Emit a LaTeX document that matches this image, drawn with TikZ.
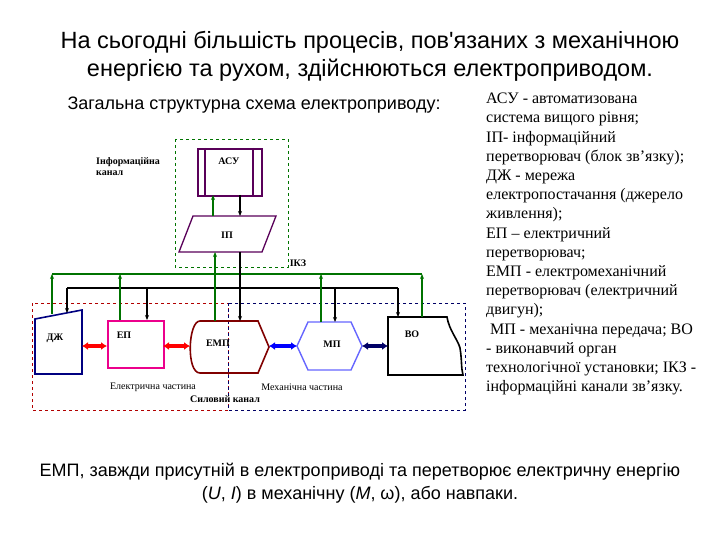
\documentclass[tikz,border=0pt]{standalone}
\usepackage{fontspec}
\setmainfont{Liberation Serif}
\newfontfamily\sans{Liberation Sans}
\usetikzlibrary{arrows.meta}
\newcommand{\apos}{{\char"27}}
\begin{document}
\begin{tikzpicture}[x=1pt,y=-1pt,
 blk/.style={line width=1.6pt},
 gr/.style={draw=green!45!black,line width=1.6pt},
 bk/.style={draw=black,line width=1.3pt},
 up/.style={gr,-{Stealth[length=5pt,width=4pt]}},
 dn/.style={bk,-{Stealth[length=5pt,width=4pt]}},
 dbl/.style={line width=4pt,{Latex[length=6pt,width=8pt]}-{Latex[length=6pt,width=8pt]}},
 lbl/.style={font=\bfseries\fontsize{10}{11}\selectfont},
 sm/.style={font=\fontsize{10}{11}\selectfont}]
\useasboundingbox (0,0) rectangle (720,540);
\node[font=\sans\fontsize{23.5}{28}\selectfont,align=center] (title) at (370,56) {На сьогодні більшість процесів, пов\apos язаних з механічною\\енергією та рухом, здійснюються електроприводом.};
\node[font=\sans\fontsize{18}{20}\selectfont,anchor=west] (sub) at (64,105) {Загальна структурна схема електроприводу:};
\node[font=\fontsize{16}{19.2}\selectfont,align=left,anchor=north west,inner sep=0] (legend) at (486,93) {АСУ - автоматизована\\система вищого рівня;\\ІП- інформаційний\\перетворювач (блок зв\apos язку);\\ДЖ - мережа\\електропостачання (джерело\\живлення);\\ЕП – електричний\\перетворювач;\\ЕМП - електромеханічний\\перетворювач (електричний\\двигун);\\ \ МП - механічна передача; ВО\\- виконавчий орган\\технологічної установки; ІКЗ -\\інформаційні канали зв\apos язку.};
\node[font=\sans\fontsize{18}{23}\selectfont,align=center] (bottom) at (360,483) {ЕМП, завжди присутній в електроприводі та перетворює електричну енергію\\(\textit{U}, \textit{I}) в механічну (\textit{M}, ω), або навпаки.};
% dashed frames
\draw[green!45!black,dashed,thin] (175,139) rectangle (288,267);
\draw[red!70!black,dashed,thin] (32,303) rectangle (228,410);
\draw[blue!40!black,dashed,thin] (228,303) rectangle (465,410);
% ASU
\node[draw=violet!70!black,blk,minimum width=64pt,minimum height=47pt,anchor=north west,inner sep=0] (asu) at (197,148) {};
\draw[violet!70!black,blk] (205,148) -- (205,195) (253,148) -- (253,195);
\node[lbl] (asut) at (229,161) {АСУ};
% IP
\draw[violet!70!black,line width=1.3pt,fill=white] (193,216) -- (276,216) -- (262,252) -- (179,252) -- cycle;
\node[lbl] (ip) at (227,235) {ІП};
\node[lbl] (ikz) at (298,263) {ІКЗ};
\node[lbl,align=left,anchor=north west,inner sep=0] (info) at (96,157) {Інформаційна\\канал};
% blocks
\draw[blue!50!black,line width=1.6pt] (35,319) -- (82,310) -- (82,374) -- (35,374) -- cycle;
\node[lbl] (dzh) at (55,338) {ДЖ};
\node[draw=magenta,line width=1.6pt,minimum width=56pt,minimum height=47pt,anchor=north west,inner sep=0] (ep) at (107,320) {};
\node[lbl] (ept) at (124,335) {ЕП};
\draw[red!50!black,line width=1.6pt] (200,321) -- (258,321) -- (269,347) -- (258,373) -- (200,373) .. controls (186,373) and (188,321) .. (200,321);
\node[lbl] (emp) at (218,343) {ЕМП};
\draw[blue!60!white,line width=1.4pt] (308,322) -- (351,322) -- (362,346) -- (351,370) -- (308,370) -- (297,346) -- cycle;
\node[lbl] (mp) at (332,344) {МП};
\draw[black,line width=1.6pt] (388,317) -- (447,317) .. controls (449,330) and (458,340) .. (460,348) .. controls (462,360) and (461,368) .. (463,375) -- (388,375) -- cycle;
\node[lbl] (vo) at (412,334) {ВО};
\node[sm] (el) at (153,387) {Електрична частина};
\node[sm] (mech) at (302,387) {Механічна частина};
\node[lbl] (sil) at (225,399) {Силовий канал};
% coordinates
\coordinate (g1) at (52,274); \coordinate (g2) at (422,274);
\coordinate (b1) at (67,288); \coordinate (b2) at (398,288);
% power arrows
\draw[dbl,red] (82,346) -- (107,346);
\draw[dbl,red] (163,346) -- (190,346);
\draw[dbl,blue] (269,346) -- (297,346);
\draw[dbl,blue!40!black] (362,346) -- (388,346);
% buses
\draw[gr] (g1) -- (g2);
\draw[bk] (b1) -- (b2);
\draw[up] (52,314) -- (52,274);
\draw[up] (120,320) -- (120,274);
\draw[up] (215,321) -- (215,252);
\draw[up] (213,216) -- (213,195);
\draw[up] (321,322) -- (321,274);
\draw[up] (422,317) -- (422,274);
\draw[dn] (67,288) -- (67,313);
\draw[dn] (147,288) -- (147,320);
\draw[dn] (335,288) -- (335,322);
\draw[dn] (398,288) -- (398,317);
\draw[dn] (240,195) -- (240,216);
\draw[dn] (240,252) -- (240,321);
\end{tikzpicture}
\end{document}
